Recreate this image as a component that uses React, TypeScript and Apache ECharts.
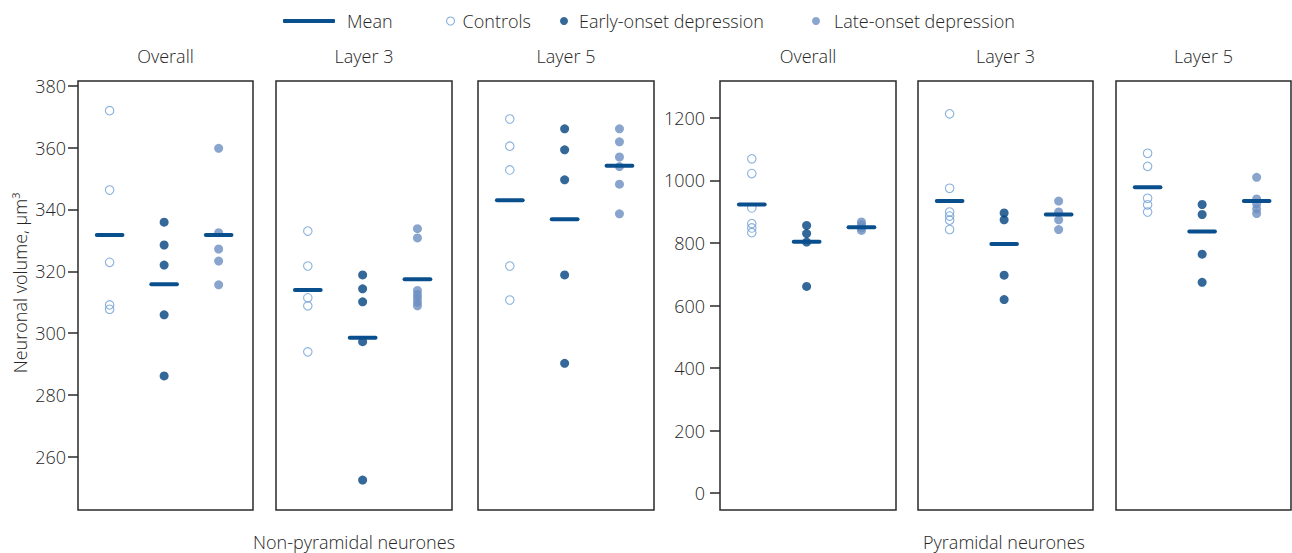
import { useEffect, useRef } from 'react';
import * as echarts from 'echarts';

// Group names (legend entries) and panel headings
const groupNames = ['Controls', 'Early-onset depression', 'Late-onset depression'];
const meanName = 'Mean';
const panelTitles = ['Overall', 'Layer 3', 'Layer 5', 'Overall', 'Layer 3', 'Layer 5'];
const sectionLabels = ['Non-pyramidal neurones', 'Pyramidal neurones'];
const yAxisTitle = 'Neuronal volume, μm³';

// Tick labels of the two value axes
const nonPyramidalTicks = [260, 280, 300, 320, 340, 360, 380];
const pyramidalTicks = [0, 200, 400, 600, 800, 1000, 1200];

// Non-pyramidal neurones — overall
const npOverallControls = [372.0, 346.3, 322.9, 309.1, 307.7];
const npOverallEarly = [335.9, 328.5, 322.0, 305.9, 286.1];
const npOverallLate = [359.8, 332.5, 327.2, 323.3, 315.6];
const npOverallMean = [331.7, 315.8, 331.7];

// Non-pyramidal neurones — layer 3
const npLayer3Controls = [333.0, 321.7, 311.4, 308.8, 293.9];
const npLayer3Early = [318.8, 314.3, 310.1, 297.2, 252.4];
const npLayer3Late = [333.8, 330.8, 313.8, 312.5, 311.3, 310.0, 308.8];
const npLayer3Mean = [313.9, 298.5, 317.4];

// Non-pyramidal neurones — layer 5
const npLayer5Controls = [369.3, 360.5, 352.8, 321.7, 310.7];
const npLayer5Early = [366.1, 359.3, 349.6, 318.8, 290.2];
const npLayer5Late = [366.1, 361.9, 357.0, 353.9, 348.2, 338.6];
const npLayer5Mean = [343.0, 336.8, 354.2];

// Pyramidal neurones — overall
const pyOverallControls = [1069, 1022, 912, 862, 848, 833];
const pyOverallEarly = [856, 830, 803, 661];
const pyOverallLate = [867, 858, 848, 840];
const pyOverallMean = [923, 804, 850];

// Pyramidal neurones — layer 3
const pyLayer3Controls = [1213, 975, 899, 886, 873, 843];
const pyLayer3Early = [896, 874, 697, 619];
const pyLayer3Late = [934, 899, 874, 843];
const pyLayer3Mean = [934, 797, 891];

// Pyramidal neurones — layer 5
const pyLayer5Controls = [1087, 1045, 943, 922, 899];
const pyLayer5Early = [923, 891, 764, 674];
const pyLayer5Late = [1010, 941, 925, 909, 894];
const pyLayer5Mean = [978, 837, 934];

const panels = [
  { groups: [npOverallControls, npOverallEarly, npOverallLate], mean: npOverallMean, kind: 'np' },
  { groups: [npLayer3Controls, npLayer3Early, npLayer3Late], mean: npLayer3Mean, kind: 'np' },
  { groups: [npLayer5Controls, npLayer5Early, npLayer5Late], mean: npLayer5Mean, kind: 'np' },
  { groups: [pyOverallControls, pyOverallEarly, pyOverallLate], mean: pyOverallMean, kind: 'py' },
  { groups: [pyLayer3Controls, pyLayer3Early, pyLayer3Late], mean: pyLayer3Mean, kind: 'py' },
  { groups: [pyLayer5Controls, pyLayer5Early, pyLayer5Late], mean: pyLayer5Mean, kind: 'py' },
];

// Layout
const WIDTH = 1292;
const HEIGHT = 553;
const PANEL_LEFT = [78, 276, 478, 720, 918, 1116];
const PANEL_WIDTH = [175, 176, 176, 176, 175, 175];
const PANEL_TOP = 81;
const PANEL_HEIGHT = 429;

// Styling
const FONT = "'Open Sans', 'Noto Sans', sans-serif";
const FONT_WEIGHT = 300;
const TEXT_COLOR = '#262626';
const FONT_SIZE = 18;
const MEAN_COLOR = '#0a4f8d';
const CONTROL_COLOR = '#6b9dd2';
const EARLY_COLOR = '#00427f';
const LATE_COLOR = '#6b8ec2';

const textStyle = { fontFamily: FONT, fontSize: FONT_SIZE, fontWeight: FONT_WEIGHT, color: TEXT_COLOR };

function groupStyle(g: number) {
  if (g === 0) {
    return { color: 'rgba(255,255,255,0)', borderColor: CONTROL_COLOR, borderWidth: 1.1 };
  }
  return { color: g === 1 ? EARLY_COLOR : LATE_COLOR };
}

function buildOption() {
  const grid = panels.map((_, i) => ({
    left: PANEL_LEFT[i],
    top: PANEL_TOP,
    width: PANEL_WIDTH[i],
    height: PANEL_HEIGHT,
    show: true,
    borderColor: '#2a2a2a',
    borderWidth: 1.5,
    backgroundColor: 'rgba(0,0,0,0)',
  }));

  const xAxis = panels.map((_, i) => ({
    gridIndex: i,
    type: 'value',
    min: 0.42,
    max: 3.63,
    show: false,
  }));

  const yAxis = panels.map((p, i) => {
    const isNp = p.kind === 'np';
    const ticks = isNp ? nonPyramidalTicks : pyramidalTicks;
    const labelled = i === 0 || i === 3;
    return {
      gridIndex: i,
      type: 'value',
      min: isNp ? 242.7 : -54,
      max: isNp ? 381.6 : 1318,
      show: labelled,
      axisLine: { show: false },
      splitLine: { show: false },
      axisTick: {
        show: labelled,
        length: 10,
        customValues: ticks,
        lineStyle: { color: '#2a2a2a', width: 1.5 },
      },
      axisLabel: {
        show: labelled,
        customValues: ticks,
        margin: isNp ? 12 : 15,
        formatter: (v: number) => String(v),
        ...textStyle,
      },
    };
  });

  const series: any[] = [];
  panels.forEach((p, i) => {
    p.groups.forEach((values, g) => {
      series.push({
        type: 'scatter',
        name: groupNames[g],
        xAxisIndex: i,
        yAxisIndex: i,
        symbol: 'circle',
        symbolSize: g === 0 ? 8.5 : 9,
        itemStyle: groupStyle(g),
        data: values.map((v) => [g + 1, v]),
        z: 2,
      });
    });
    series.push({
      type: 'custom',
      name: meanName,
      xAxisIndex: i,
      yAxisIndex: i,
      itemStyle: { color: MEAN_COLOR },
      encode: { x: 0, y: 1 },
      data: p.mean.map((v, g) => [g + 1, v]),
      z: 5,
      renderItem: (_params: any, api: any) => {
        const x = api.value(0);
        const y = api.value(1);
        const a = api.coord([x - 0.235, y]);
        const b = api.coord([x + 0.235, y]);
        return {
          type: 'line',
          shape: { x1: a[0], y1: a[1], x2: b[0], y2: b[1] },
          style: { stroke: MEAN_COLOR, lineWidth: 4, lineCap: 'round' },
        };
      },
    });
  });

  const legendBase = {
    top: 12,
    padding: 0,
    selectedMode: false,
    orient: 'horizontal',
  };
  const legend = [
    {
      ...legendBase,
      left: 283,
      itemWidth: 52,
      itemHeight: 4,
      data: [{ name: meanName, icon: 'roundRect', itemStyle: { color: MEAN_COLOR } }],
      textStyle: { ...textStyle, padding: [0, 0, 0, 7] },
    },
    {
      ...legendBase,
      left: 446,
      itemWidth: 8,
      itemHeight: 8,
      data: [
        {
          name: groupNames[0],
          icon: 'circle',
          itemStyle: { color: 'rgba(255,255,255,0)', borderColor: CONTROL_COLOR, borderWidth: 1.1 },
        },
      ],
      textStyle: { ...textStyle, padding: [0, 0, 0, 3] },
    },
    {
      ...legendBase,
      left: 560,
      itemWidth: 8,
      itemHeight: 8,
      data: [{ name: groupNames[1], icon: 'circle', itemStyle: { color: EARLY_COLOR } }],
      textStyle: { ...textStyle, padding: [0, 0, 0, 6] },
    },
    {
      ...legendBase,
      left: 812,
      itemWidth: 8,
      itemHeight: 8,
      data: [{ name: groupNames[2], icon: 'circle', itemStyle: { color: LATE_COLOR } }],
      textStyle: { ...textStyle, padding: [0, 0, 0, 9] },
    },
  ];

  const font = `${FONT_WEIGHT} ${FONT_SIZE}px ${FONT}`;
  const graphic: any[] = [];
  panelTitles.forEach((t, i) => {
    graphic.push({
      type: 'text',
      x: PANEL_LEFT[i] + PANEL_WIDTH[i] / 2,
      y: 56,
      style: { text: t, font, fill: TEXT_COLOR, textAlign: 'center', textVerticalAlign: 'middle' },
    });
  });
  graphic.push({
    type: 'text',
    x: 354,
    y: 542,
    style: { text: sectionLabels[0], font, fill: TEXT_COLOR, textAlign: 'center', textVerticalAlign: 'middle' },
  });
  graphic.push({
    type: 'text',
    x: 1004,
    y: 542,
    style: { text: sectionLabels[1], font, fill: TEXT_COLOR, textAlign: 'center', textVerticalAlign: 'middle' },
  });
  graphic.push({
    type: 'text',
    x: 20,
    y: 283,
    rotation: Math.PI / 2,
    style: { text: yAxisTitle, font, fill: TEXT_COLOR, textAlign: 'center', textVerticalAlign: 'middle' },
  });

  return {
    animation: false,
    backgroundColor: '#ffffff',
    grid,
    xAxis,
    yAxis,
    legend,
    series,
    graphic,
  };
}

export default function App() {
  const ref = useRef<HTMLDivElement>(null);

  useEffect(() => {
    if (!ref.current) return;
    const chart = echarts.init(ref.current, undefined, { renderer: 'svg' });
    chart.setOption(buildOption() as any);
    return () => chart.dispose();
  }, []);

  return (
    <div
      ref={ref}
      style={{ position: 'fixed', left: 0, top: 0, width: WIDTH, height: HEIGHT, background: '#fff' }}
    />
  );
}
